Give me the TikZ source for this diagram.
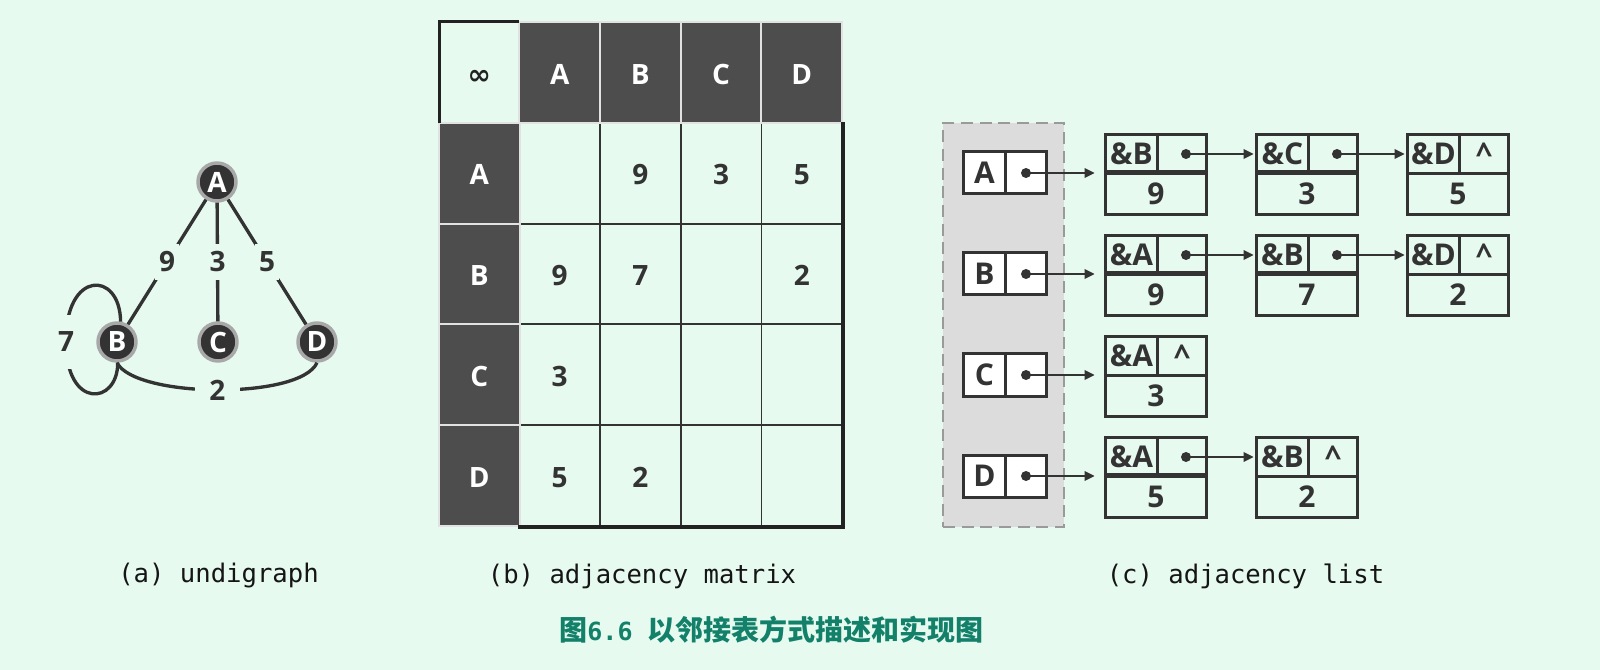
\documentclass[tikz,border=0pt]{standalone}
\usepackage{fontspec}
\setmainfont{Open Sans}
\newfontfamily\monofont{DejaVu Sans Mono}
\newfontfamily\symfont{DejaVu Sans}
\newfontfamily\cjk{Noto Sans CJK SC}
\usetikzlibrary{arrows.meta}
\definecolor{bg}{HTML}{E6FAF0}
\definecolor{ink}{HTML}{333333}
\definecolor{inkdark}{HTML}{222222}
\definecolor{captink}{HTML}{151515}
\definecolor{darkcell}{HTML}{4D4D4D}
\definecolor{hdrline}{HTML}{E2E2E2}
\definecolor{ringgray}{HTML}{A8A8A8}
\definecolor{poolfill}{HTML}{DCDCDC}
\definecolor{poolline}{HTML}{9A9A9A}
\definecolor{capgreen}{HTML}{13806A}
\newcommand\bigbf{\fontsize{21}{23}\selectfont\bfseries}
\newcommand\lfont{\fontsize{22.5}{25}\selectfont\bfseries}
\newcommand\lnode[5]{%
  \node[ltl] (#1l) at (#2,#3) {\&#4};
  \node[ltr] (#1r) at ({#2+52},#3) {};
  \node[lbt] (#1b) at (#2,{#3+39}) {#5};
}
\newcommand\lptr[1]{%
  \draw[line width=3.4pt, ink] (#1b.north west) -- (#1b.north east);
  \node[dotn] (#1d) at ([xshift=3pt]#1r.center) {};
}
\newcommand\lcaret[1]{%
  \node[caretnode] (#1c) at (#1r.center) {\textasciicircum};
}
\begin{document}
\begin{tikzpicture}[x=0.75pt,y=-0.75pt,
  vert/.style={circle, fill=ink, draw=ringgray, line width=2.6pt, minimum size=28.5pt, inner sep=0pt, text=white, font=\bigbf},
  gedge/.style={draw=ink, line width=2.5pt},
  elbl/.style={fill=bg, inner xsep=3pt, inner ysep=6pt, text=ink, font=\bigbf},
  cellbase/.style={rectangle, minimum width=60.5pt, minimum height=75.6pt, inner sep=0pt, text height=17.5pt, text depth=0pt, font=\bigbf},
  dcell/.style={cellbase, draw=ink, line width=1.4pt, fill=bg, text=ink},
  hdr/.style={cellbase, draw=hdrline, line width=1.5pt, fill=darkcell, text=white},
  cornercell/.style={rectangle, fill=bg, minimum width=59pt, minimum height=75.6pt, inner sep=0pt, text=inkdark},
  poolbox/.style={rectangle, fill=poolfill, draw=poolline, line width=1.5pt, dash pattern=on 9pt off 5pt, minimum width=90.75pt, minimum height=303pt, inner sep=0pt},
  hl/.style={rectangle, draw=ink, line width=2.25pt, fill=white, minimum width=31.5pt, minimum height=31.5pt, inner sep=0pt, anchor=north west, text=ink, font=\lfont},
  hp/.style={hl, minimum width=30.75pt},
  ltl/.style={rectangle, draw=ink, line width=2.25pt, fill=bg, minimum width=39pt, minimum height=29.25pt, inner sep=0pt, anchor=north west, text=ink, font=\lfont},
  ltr/.style={ltl, minimum width=36.75pt},
  lbt/.style={ltl, minimum width=75.75pt, minimum height=30.75pt},
  caretnode/.style={inner sep=0pt, text=ink, font=\lfont},
  dotn/.style={circle, fill=ink, inner sep=0pt, minimum size=7.5pt},
  arr/.style={draw=ink, line width=1.7pt, -{Triangle[length=7.5pt,width=7pt]}},
  captxt/.style={inner sep=0pt, text=captink, font=\monofont\fontsize{19.2}{22}\selectfont}
]
\fill[bg] (0,0) rectangle (1600,670);
\useasboundingbox (0,0) rectangle (1600,670);

% ---------- (a) graph ----------
\node[vert] (A) at (217,182) {A};
\node[vert] (B) at (117,342) {B};
\node[vert] (C) at (218,342) {C};
\node[vert] (D) at (317,342) {D};
\draw[gedge] (A) -- node[elbl] (l9) {9} (B);
\draw[gedge] (A) -- node[elbl] (l3) {3} (C);
\draw[gedge] (A) -- node[elbl] (l5) {5} (D);
\draw[gedge] (B.80) .. controls (120,270) and (65,270) .. (66,342)
   node[elbl, inner ysep=13pt, inner xsep=2pt] (l7) {7}
   .. controls (66,410) and (118,405) .. (B.272);
\draw[gedge] (B.south) .. controls (135,398) and (300,400) .. (D.south)
   node[pos=0.5, elbl, inner xsep=11pt, inner ysep=4pt] (l2) {2};

% ---------- (b) matrix ----------
\node[dcell] (m11) at (559.7,173.2) {};
\node[dcell] (m12) at (640.4,173.2) {9};
\node[dcell] (m13) at (721.1,173.2) {3};
\node[dcell] (m14) at (801.8,173.2) {5};
\node[dcell] (m21) at (559.7,274.0) {9};
\node[dcell] (m22) at (640.4,274.0) {7};
\node[dcell] (m23) at (721.1,274.0) {};
\node[dcell] (m24) at (801.8,274.0) {2};
\node[dcell] (m31) at (559.7,374.8) {3};
\node[dcell] (m32) at (640.4,374.8) {};
\node[dcell] (m33) at (721.1,374.8) {};
\node[dcell] (m34) at (801.8,374.8) {};
\node[dcell] (m41) at (559.7,475.6) {5};
\node[dcell] (m42) at (640.4,475.6) {2};
\node[dcell] (m43) at (721.1,475.6) {};
\node[dcell] (m44) at (801.8,475.6) {};
\node[cornercell] (m00) at (479.3,72.4) {};
\node[inner sep=0pt, text=inkdark, font=\symfont\bfseries\fontsize{21}{22}\selectfont] (inf) at (479.3,77) {∞};
\node[hdr] (mh1) at (559.7,72.4) {A};
\node[hdr] (mh2) at (640.4,72.4) {B};
\node[hdr] (mh3) at (721.1,72.4) {C};
\node[hdr] (mh4) at (801.8,72.4) {D};
\node[hdr] (mr1) at (479.3,173.2) {A};
\node[hdr] (mr2) at (479.3,274.0) {B};
\node[hdr] (mr3) at (479.3,374.8) {C};
\node[hdr] (mr4) at (479.3,475.6) {D};
\draw[inkdark, line width=2.6pt] (m14.north east) -- (m44.south east) -- (m41.south west);
\draw[inkdark, line width=2.6pt] (m00.south west) -- (m00.north west) -- (m00.north east);

% ---------- (c) adjacency list ----------
\node[poolbox] (pool) at (1003.5,325) {};
\node[hl] (hA) at (962,150.5) {A};
\node[hp] (pA) at (1004,150.5) {};
\node[hl] (hB) at (962,251.5) {B};
\node[hp] (pB) at (1004,251.5) {};
\node[hl] (hC) at (962,352.5) {C};
\node[hp] (pC) at (1004,352.5) {};
\node[hl] (hD) at (962,453.5) {D};
\node[hp] (pD) at (1004,453.5) {};
\node[dotn] (dA) at (pA.center) {};
\node[dotn] (dB) at (pB.center) {};
\node[dotn] (dC) at (pC.center) {};
\node[dotn] (dD) at (pD.center) {};

\lnode{a1}{1104}{133}{B}{9}\lptr{a1}
\lnode{a2}{1255}{133}{C}{3}\lptr{a2}
\lnode{a3}{1406}{133}{D}{5}\lcaret{a3}
\lnode{b1}{1104}{234}{A}{9}\lptr{b1}
\lnode{b2}{1255}{234}{B}{7}\lptr{b2}
\lnode{b3}{1406}{234}{D}{2}\lcaret{b3}
\lnode{c1}{1104}{335}{A}{3}\lcaret{c1}
\lnode{d1}{1104}{436}{A}{5}\lptr{d1}
\lnode{d2}{1255}{436}{B}{2}\lcaret{d2}

\draw[arr, shorten >=7pt] (dA.center) -- (dA.center -| a1b.west);
\draw[arr, shorten >=7pt] (dB.center) -- (dB.center -| b1b.west);
\draw[arr, shorten >=7pt] (dC.center) -- (dC.center -| c1b.west);
\draw[arr, shorten >=7pt] (dD.center) -- (dD.center -| d1b.west);
\draw[arr, shorten >=1pt] (a1d.center) -- (a1d.center -| a2l.west);
\draw[arr, shorten >=1pt] (a2d.center) -- (a2d.center -| a3l.west);
\draw[arr, shorten >=1pt] (b1d.center) -- (b1d.center -| b2l.west);
\draw[arr, shorten >=1pt] (b2d.center) -- (b2d.center -| b3l.west);
\draw[arr, shorten >=1pt] (d1d.center) -- (d1d.center -| d2l.west);

% ---------- captions ----------
\node[captxt] (capa) at (218.5,576) {(a) undigraph};
\node[captxt] (capb) at (642,576) {(b) adjacency matrix};
\node[captxt] (capc) at (1245.5,576) {(c) adjacency list};
\node[inner sep=0pt, text=capgreen] (capz) at (771.5,630)
  {{\cjk\fontsize{21}{24}\selectfont\bfseries 图}{\monofont\fontsize{18.75}{24}\selectfont\bfseries 6.6 }{\cjk\fontsize{21}{24}\selectfont\bfseries 以邻接表方式描述和实现图}};
\end{tikzpicture}
\end{document}
